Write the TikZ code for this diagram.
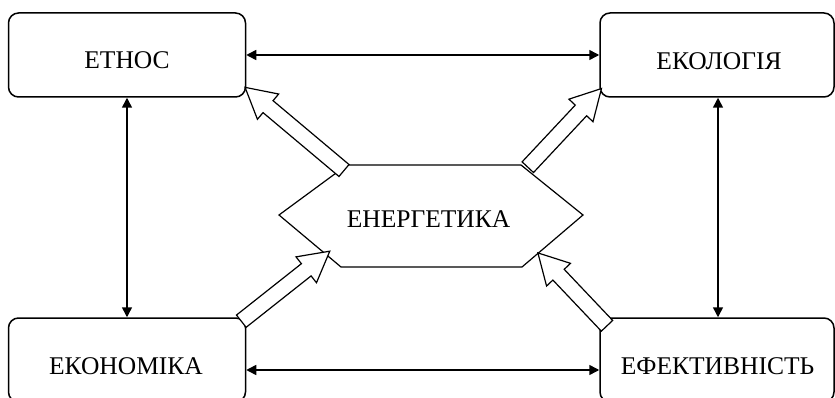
\documentclass[tikz,border=0pt]{standalone}
\usepackage{fontspec}
\setmainfont{Liberation Serif}
\usetikzlibrary{arrows.meta,calc}
\newcommand\fatarrow[2]{%
  \draw[fat] let \p1=(#1), \p2=(#2), \n1={atan2(\y2-\y1,\x2-\x1)}, \n2={veclen(\x2-\x1,\y2-\y1)} in
  [shift={(\p1)}, rotate=\n1] (0,-7.8) -- ({\n2-30},-7.8) -- ({\n2-30},-16.5) -- (\n2,0) -- ({\n2-30},16.5) -- ({\n2-30},7.8) -- (0,7.8) -- cycle;}
\begin{document}
\begin{tikzpicture}[x=1pt,y=-1pt,
  box/.style={draw,line width=1.5pt,rounded corners=10pt,minimum height=84pt,inner sep=0pt},
  lbl/.style={font=\fontsize{25.5}{30}\selectfont,inner sep=0pt},
  dbl/.style={line width=1.5pt,{Triangle[length=10pt,width=10pt]}-{Triangle[length=10pt,width=10pt]}},
  fat/.style={draw,line width=1.2pt,fill=white,line join=miter},
  hexa/.style={draw,line width=1.2pt,line join=miter}]
\clip (0,0) rectangle (835,398);
% boxes
\node[box,minimum width=237pt] (ethos) at (127,55) {};
\node[box,minimum width=234pt] (eco) at (717,55) {};
\node[box,minimum width=237pt] (econ) at (127,360) {};
\node[box,minimum width=234pt] (eff) at (717,360) {};
% labels
\node[lbl] (tethos) at (127,60) {ЕТНОС};
\node[lbl] (teco) at (719,61) {ЕКОЛОГІЯ};
\node[lbl] (tecon) at (126,366) {ЕКОНОМІКА};
\node[lbl] (teff) at (717.5,366) {ЕФЕКТИВНІСТЬ};
% hexagon
\node[lbl] (energy) at (428.5,219) {ЕНЕРГЕТИКА};
\coordinate (hL) at (279,215);
\coordinate (hTL) at (347,165);
\coordinate (hTR) at (521,165);
\coordinate (hR) at (583,215);
\coordinate (hBR) at (522,267);
\coordinate (hBL) at (341,267);
\draw[hexa] (hL) -- (hTL) -- (hTR) -- (hR) -- (hBR) -- (hBL) -- cycle;
% double arrows
\draw[dbl] (ethos.east) -- (eco.west);
\draw[dbl] ([yshift=-10pt]econ.east) -- ([yshift=-10pt]eff.west);
\draw[dbl] (ethos.south) -- (econ.north);
\draw[dbl] ([xshift=1pt]eco.south) -- ([xshift=1pt]eff.north);
% fat arrows
\coordinate (t1) at (344,170.5); \coordinate (p1) at (245,87.3);
\coordinate (t2) at (527.8,167.2); \coordinate (p2) at (601.7,88.3);
\coordinate (t3) at (241.3,321.2); \coordinate (p3) at (330,251);
\coordinate (t4) at (607,325.8); \coordinate (p4) at (537.7,252.7);
\fatarrow{t1}{p1}
\fatarrow{t2}{p2}
\fatarrow{t3}{p3}
\fatarrow{t4}{p4}
\end{tikzpicture}
\end{document}
